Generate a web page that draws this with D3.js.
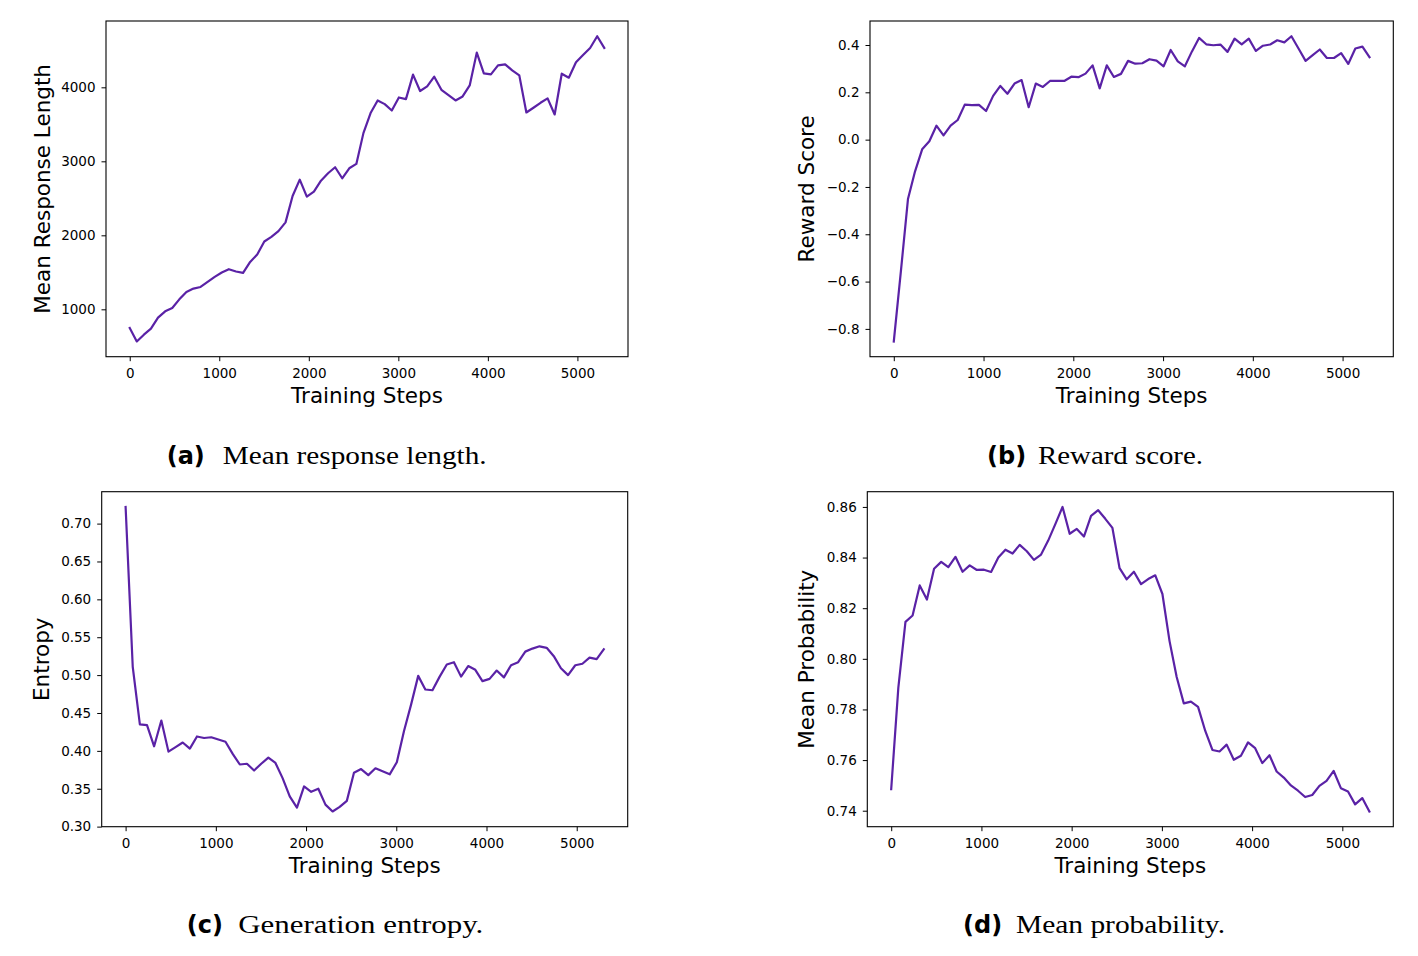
<!DOCTYPE html>
<html><head><meta charset="utf-8">
<script src="https://cdn.jsdelivr.net/npm/d3@7"></script>
<style>html,body{margin:0;padding:0;background:#fff;} svg{display:block}</style>
</head><body>
<svg id="fig" width="1418" height="956"></svg>
<script>
// ---- data ----
const steps = [0, 79, 158, 237, 316, 396, 475, 554, 633, 712, 791, 870, 949, 1028, 1107, 1187, 1266, 1345, 1424, 1503, 1582, 1661, 1740, 1819, 1899, 1978, 2057, 2136, 2215, 2294, 2373, 2452, 2531, 2610, 2690, 2769, 2848, 2927, 3006, 3085, 3164, 3243, 3322, 3401, 3481, 3560, 3639, 3718, 3797, 3876, 3955, 4034, 4113, 4193, 4272, 4351, 4430, 4509, 4588, 4667, 4746, 4825, 4904, 4984, 5063, 5142, 5221, 5300];
const xTicks = [0, 1000, 2000, 3000, 4000, 5000];

const lengthVals = [747, 566, 657, 738, 887, 973, 1018, 1135, 1235, 1280, 1302, 1370, 1438, 1497, 1542, 1511, 1492, 1641, 1741, 1917, 1980, 2057, 2175, 2531, 2752, 2522, 2590, 2739, 2839, 2920, 2771, 2906, 2965, 3381, 3652, 3823, 3773, 3687, 3863, 3841, 4171, 3950, 4012, 4144, 3967, 3896, 3823, 3877, 4026, 4469, 4189, 4175, 4297, 4311, 4229, 4161, 3660, 3724, 3791, 3850, 3633, 4184, 4130, 4338, 4437, 4532, 4690, 4532];
const lengthTicks = [1000, 2000, 3000, 4000];

const rewardVals = [-0.853, -0.557, -0.251, -0.134, -0.041, -0.007, 0.059, 0.018, 0.059, 0.083, 0.148, 0.146, 0.147, 0.121, 0.185, 0.227, 0.194, 0.237, 0.252, 0.137, 0.237, 0.223, 0.248, 0.249, 0.248, 0.266, 0.264, 0.279, 0.314, 0.217, 0.314, 0.265, 0.278, 0.333, 0.321, 0.323, 0.340, 0.334, 0.310, 0.379, 0.331, 0.310, 0.373, 0.430, 0.403, 0.399, 0.402, 0.371, 0.427, 0.403, 0.427, 0.375, 0.397, 0.402, 0.420, 0.411, 0.437, 0.385, 0.333, 0.357, 0.381, 0.345, 0.345, 0.366, 0.320, 0.385, 0.393, 0.348];
const rewardTicks = [-0.8, -0.6, -0.4, -0.2, 0.0, 0.2, 0.4];

const entropyVals = [0.722, 0.511, 0.435, 0.434, 0.406, 0.440, 0.399, 0.405, 0.411, 0.403, 0.419, 0.417, 0.418, 0.415, 0.412, 0.396, 0.382, 0.383, 0.374, 0.383, 0.391, 0.384, 0.364, 0.340, 0.325, 0.353, 0.346, 0.350, 0.329, 0.320, 0.326, 0.334, 0.371, 0.376, 0.368, 0.377, 0.373, 0.369, 0.385, 0.426, 0.461, 0.499, 0.481, 0.480, 0.498, 0.514, 0.517, 0.498, 0.512, 0.507, 0.492, 0.495, 0.506, 0.497, 0.513, 0.517, 0.531, 0.535, 0.538, 0.536, 0.525, 0.509, 0.500, 0.513, 0.515, 0.523, 0.521, 0.534];
const entropyTicks = [0.30, 0.35, 0.40, 0.45, 0.50, 0.55, 0.60, 0.65, 0.70];

const probVals = [0.7485, 0.7886, 0.8146, 0.8171, 0.8290, 0.8234, 0.8356, 0.8383, 0.8362, 0.8403, 0.8344, 0.8369, 0.8351, 0.8352, 0.8343, 0.8400, 0.8431, 0.8416, 0.8450, 0.8425, 0.8391, 0.8412, 0.8467, 0.8532, 0.8600, 0.8494, 0.8513, 0.8483, 0.8565, 0.8587, 0.8553, 0.8517, 0.8358, 0.8314, 0.8344, 0.8295, 0.8315, 0.8330, 0.8256, 0.8070, 0.7928, 0.7824, 0.7831, 0.7810, 0.7715, 0.7640, 0.7634, 0.7661, 0.7601, 0.7617, 0.7670, 0.7647, 0.7588, 0.7619, 0.7555, 0.7531, 0.7500, 0.7479, 0.7454, 0.7462, 0.7498, 0.7518, 0.7557, 0.7489, 0.7476, 0.7425, 0.7450, 0.7397];
const probTicks = [0.74, 0.76, 0.78, 0.80, 0.82, 0.84, 0.86];

const xLabel = "Training Steps";
const yLabels = ["Mean Response Length", "Reward Score", "Entropy", "Mean Probability"];
const captionTags = ["(a)", "(b)", "(c)", "(d)"];
const captionTexts = ["Mean response length.", "Reward score.", "Generation entropy.", "Mean probability."];

// ---- layout ----
const LINE = "#5a22a6";
const panels = [
  {vals: lengthVals, ticks: lengthTicks, fmt: d3.format("d"), box: {l:106, r:628, t:21, b:356.7}, ylx: 49.5,
   cap: {tagX:166.7, textX:222.7, textW:264, y:463.5}},
  {vals: rewardVals, ticks: rewardTicks, fmt: d3.format(".1f"), box: {l:870, r:1393.3, t:21, b:356.7}, ylx: 813.5,
   cap: {tagX:987, textX:1038, textW:165, y:463.5}},
  {vals: entropyVals, ticks: entropyTicks, fmt: d3.format(".2f"), box: {l:101.7, r:627.7, t:491.7, b:826.7}, ylx: 49,
   cap: {tagX:186.7, textX:238.3, textW:245, y:933}},
  {vals: probVals, ticks: probTicks, fmt: d3.format(".2f"), box: {l:867.3, r:1393.3, t:491.7, b:826.7}, ylx: 814,
   cap: {tagX:963, textX:1016, textW:209, y:933}}
];

const svg = d3.select("#fig");
const TICKFONT = "DejaVu Sans, sans-serif";

function pad5(ext) { const r = ext[1] - ext[0]; return [ext[0] - 0.05 * r, ext[1] + 0.05 * r]; }

panels.forEach((p, k) => {
  const b = p.box;
  const x = d3.scaleLinear().domain(pad5(d3.extent(steps))).range([b.l, b.r]);
  const y = d3.scaleLinear().domain(pad5(d3.extent(p.vals))).range([b.b, b.t]);

  const g = svg.append("g");

  // line
  g.append("path")
    .datum(p.vals.map((v, i) => [steps[i], v]))
    .attr("fill", "none").attr("stroke", LINE).attr("stroke-width", 2.2)
    .attr("stroke-linejoin", "round").attr("stroke-linecap", "square")
    .attr("d", d3.line().x(d => x(d[0])).y(d => y(d[1])));

  // x axis
  const gx = g.append("g").attr("transform", `translate(0,${b.b})`)
    .call(d3.axisBottom(x).tickValues(xTicks).tickFormat(d3.format("d")).tickSize(4.5).tickPadding(7.2));
  gx.select(".domain").remove();
  gx.selectAll("text").attr("font-family", TICKFONT).attr("font-size", 13.5).attr("fill", "#000");
  gx.selectAll("line").attr("stroke", "#000").attr("stroke-width", 1);

  // y axis
  const gy = g.append("g").attr("transform", `translate(${b.l},0)`)
    .call(d3.axisLeft(y).tickValues(p.ticks).tickFormat(p.fmt).tickSize(4.5).tickPadding(6));
  gy.select(".domain").remove();
  gy.selectAll("text").attr("font-family", TICKFONT).attr("font-size", 13.5).attr("fill", "#000");
  gy.selectAll("line").attr("stroke", "#000").attr("stroke-width", 1);

  // frame
  g.append("rect").attr("x", b.l).attr("y", b.t).attr("width", b.r - b.l).attr("height", b.b - b.t)
    .attr("fill", "none").attr("stroke", "#000").attr("stroke-width", 1.1);

  // axis labels
  g.append("text").attr("x", (b.l + b.r) / 2).attr("y", b.b + 46)
    .attr("text-anchor", "middle").attr("font-family", TICKFONT).attr("font-size", 21.5).attr("fill", "#000")
    .text(xLabel);
  g.append("text").attr("transform", `translate(${p.ylx},${(b.t + b.b) / 2}) rotate(-90)`)
    .attr("text-anchor", "middle").attr("font-family", TICKFONT).attr("font-size", 21.5).attr("fill", "#000")
    .text(yLabels[k]);

  // caption
  g.append("text").attr("x", p.cap.tagX).attr("y", p.cap.y)
    .attr("font-family", "DejaVu Sans, sans-serif").attr("font-weight", "bold").attr("font-size", 24).attr("fill", "#000")
    .text(captionTags[k]);
  g.append("text").attr("x", p.cap.textX).attr("y", p.cap.y)
    .attr("font-family", "Liberation Serif, serif").attr("font-size", 25).attr("fill", "#000")
    .attr("textLength", p.cap.textW).attr("lengthAdjust", "spacingAndGlyphs")
    .text(captionTexts[k]);
});
</script>
</body></html>
